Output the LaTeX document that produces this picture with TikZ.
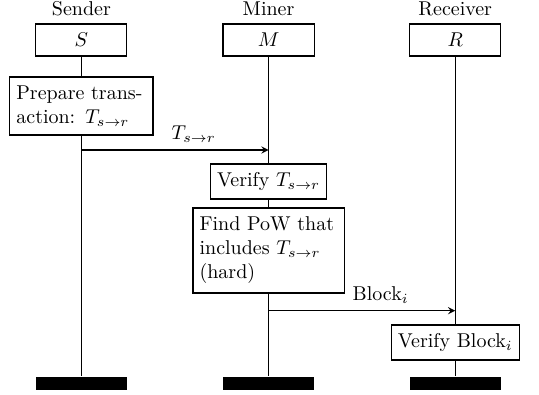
\documentclass[tikz,border=0pt]{standalone}

\begin{document}
\begin{tikzpicture}[>=stealth, semithick,
    kop/.style={draw, minimum width=1.6cm, minimum height=0.56cm},
    blok/.style={draw, fill=white, align=left, minimum height=17.5pt},
    balk/.style={fill=black, minimum width=1.6cm, minimum height=0.23cm, inner sep=0pt}]

  \useasboundingbox (0,0) rectangle (9.472,-6.924);

  % Deelnemers
  \node[kop] (hS) at (1.43,-0.703) {$S$};
  \node[kop] (hM) at (4.72,-0.703) {$M$};
  \node[kop] (hR) at (8.00,-0.703) {$R$};

  % Namen
  \node[above] (nS) at (hS.north) {Sender};
  \node[above] (nM) at (hM.north) {Miner};
  \node[above] (nR) at (hR.north) {Receiver};

  % Stappen
  \node[blok, text width=65pt, minimum height=29pt] (prep) at (1.43,-1.863)
    {Prepare trans-\\action: $T_{s\to r}$};
  \node[blok] (verT) at (4.72,-3.19) {Verify $T_{s\to r}$};
  \node[blok, text width=69pt, minimum height=42.5pt] (pow) at (4.72,-4.402)
    {Find PoW that\\includes $T_{s\to r}$\\(hard)};
  \node[blok] (verB) at (8.00,-6.019) {Verify Block$_i$};

  % Einde
  \node[balk] (eS) at (1.43,-6.739) {};
  \node[balk] (eM) at (4.72,-6.739) {};
  \node[balk] (eR) at (8.00,-6.739) {};

  % Levenslijnen
  \draw (hS) -- (prep) -- (eS);
  \draw (hM) -- (verT) -- (pow) -- (eM);
  \draw (hR) -- (verB) -- (eR);

  % Berichten
  \coordinate (tS) at (1.43,-2.636);
  \coordinate (tM) at (4.72,-2.636);
  \draw[->] (tS) -- (tM) node[pos=0.6, above] (lT) {$T_{s\to r}$};

  \coordinate (bM) at (4.72,-5.46);
  \coordinate (bR) at (8.00,-5.46);
  \draw[->] (bM) -- (bR) node[pos=0.6, above] (lB) {Block$_i$};

\end{tikzpicture}
\end{document}
